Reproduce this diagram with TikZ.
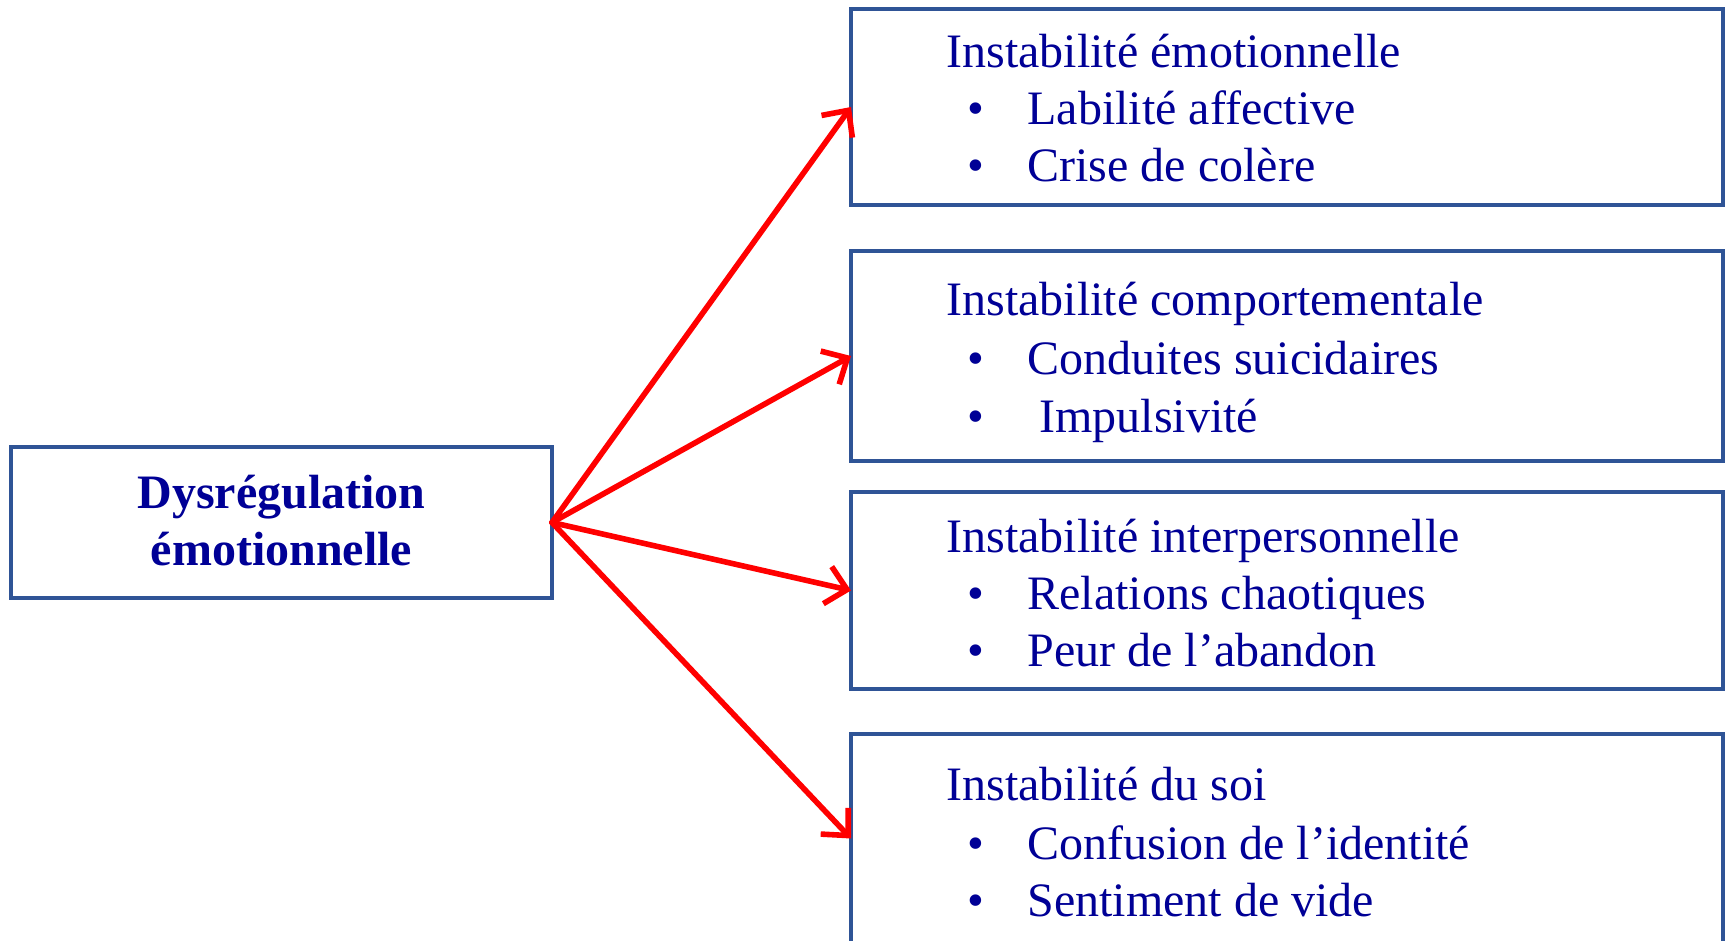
\documentclass[tikz,border=0pt]{standalone}
\usepackage{fontspec}
\setmainfont{Liberation Serif}
\usetikzlibrary{arrows.meta}
\definecolor{txtblue}{RGB}{0,0,150}
\definecolor{boxblue}{RGB}{47,84,150}
\definecolor{arrred}{RGB}{255,0,0}
\tikzset{
  box/.style={draw=boxblue, line width=2.2pt, rectangle, inner sep=0pt, outer sep=0pt, fill=white, anchor=north west},
  txt/.style={text=txtblue, font=\fontsize{24}{28.5}\selectfont, inner sep=0pt, anchor=base west},
  bul/.style={text=txtblue, font=\fontsize{24}{28.5}\selectfont, inner sep=0pt, anchor=base},
  conn/.style={draw=arrred, line width=2.8pt, line cap=round, -{Straight Barb[length=10pt,width=19pt,line width=2.8pt]}}
}
\begin{document}
\begin{tikzpicture}[x=0.5pt,y=-0.5pt]
\useasboundingbox (0,0) rectangle (1725,941);
\clip (0,0) rectangle (1725,941);
% boxes
\node[box, minimum width=270.5pt, minimum height=75.5pt] (dys) at (11,447) {};
\node[box, minimum width=436pt, minimum height=98pt] (b1) at (851,9) {};
\node[box, minimum width=436pt, minimum height=105pt] (b2) at (851,251) {};
\node[box, minimum width=436pt, minimum height=98.5pt] (b3) at (851,492) {};
\node[box, minimum width=436pt, minimum height=104.5pt] (b4) at (851,734) {};
% center text
\node[text=txtblue, font=\fontsize{24}{28.5}\selectfont\bfseries, align=center, inner sep=0pt] (dyst) at ([yshift=1pt]dys.center) {Dysrégulation\\émotionnelle};
% box 1
\node[txt] (t1) at (946,68) {Instabilité émotionnelle};
\node[bul] (t1b1) at (976,125) {•};
\node[txt] (t1i1) at (1027,125) {Labilité affective};
\node[bul] (t1b2) at (976,182) {•};
\node[txt] (t1i2) at (1027,182) {Crise de colère};
% box 2
\node[txt] (t2) at (946,316) {Instabilité comportementale};
\node[bul] (t2b1) at (976,375) {•};
\node[txt] (t2i1) at (1027,375) {Conduites suicidaires};
\node[bul] (t2b2) at (976,432) {•};
\node[txt] (t2i2) at (1039,432) {Impulsivité};
% box 3
\node[txt] (t3) at (946,552) {Instabilité interpersonnelle};
\node[bul] (t3b1) at (976,609) {•};
\node[txt] (t3i1) at (1027,609) {Relations chaotiques};
\node[bul] (t3b2) at (976,666) {•};
\node[txt] (t3i2) at (1027,666) {Peur de l’abandon};
% box 4
\node[txt] (t4) at (946,800) {Instabilité du soi};
\node[bul] (t4b1) at (976,859) {•};
\node[txt] (t4i1) at (1027,859) {Confusion de l’identité};
\node[bul] (t4b2) at (976,916) {•};
\node[txt] (t4i2) at (1027,916) {Sentiment de vide};
% connectors
\draw[conn] (dys.east) -- (b1.west);
\draw[conn] (dys.east) -- (b2.west);
\draw[conn] (dys.east) -- (b3.west);
\draw[conn] (dys.east) -- (b4.west);
\end{tikzpicture}
\end{document}
